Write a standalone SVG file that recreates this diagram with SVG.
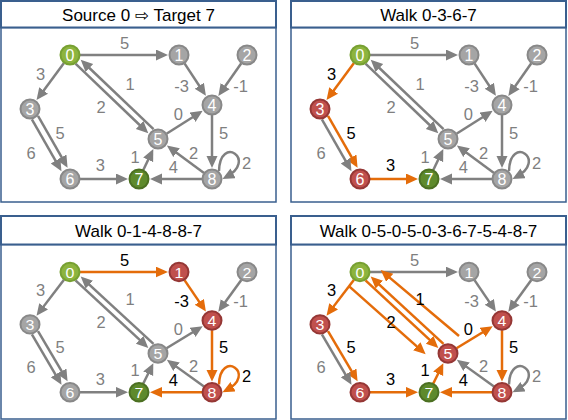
<svg xmlns="http://www.w3.org/2000/svg" width="568" height="420" viewBox="0 0 568 420">
<defs>
  <marker id="ag" markerUnits="userSpaceOnUse" markerWidth="13" markerHeight="12" refX="8" refY="5.5" orient="auto"><path d="M0,0 L12,5.5 L0,11 z" fill="#808080"/></marker>
  <marker id="ao" markerUnits="userSpaceOnUse" markerWidth="13" markerHeight="12" refX="8" refY="5.5" orient="auto"><path d="M0,0 L12,5.5 L0,11 z" fill="#E46C0A"/></marker>
</defs>
<style>
  .tb{fill:#fff;stroke:#3A5F8E;stroke-width:2}
  .bd{fill:#fff;stroke:#3A5F8E;stroke-width:1.5}
  .title{font-family:"Liberation Sans","DejaVu Sans",Arial,sans-serif;font-size:17px;text-anchor:middle;fill:#000}
  .e{fill:none;stroke:#808080;stroke-width:2.5;marker-end:url(#ag)}
  .o{fill:none;stroke:#E46C0A;stroke-width:2.5;marker-end:url(#ao)}
  .nd circle{stroke-width:2}
  .nd text{font-family:"Liberation Sans",Arial,sans-serif;font-size:16px;fill:#fff;text-anchor:middle}
  .n circle{fill:#A5A5A5;stroke:#888888}
  .r circle{fill:#C0504D;stroke:#953735}
  .g0 circle{fill:#8DB43E;stroke:#77A032}
  .g7 circle{fill:#5E8A2C;stroke:#4C7022}
  .lbl text{font-family:"Liberation Sans",Arial,sans-serif;font-size:16.5px;text-anchor:middle}
  .lg{fill:#7F7F7F}
  .lk{fill:#000}
</style>

<!-- Panel 1: Source 0 => Target 7 -->
<g id="panel1">
  <rect class="bd" x="1" y="27.5" width="275" height="174.5"/>
  <rect class="tb" x="1" y="1" width="275" height="26.5"/>
  <text class="title" x="138.5" y="20.7">Source 0 ⇨ Target 7</text>
  <g id="p1-graph">
    <g id="p1-edges">
      <line class="e" x1="80" y1="55" x2="164" y2="55"/>
      <line class="e" x1="64" y1="63" x2="38.9" y2="96.9"/>
      <line class="e" x1="75.5" y1="63.7" x2="145.4" y2="130.5"/>
      <line class="e" x1="153.5" y1="129.2" x2="83.6" y2="62.5"/>
      <line class="e" x1="184.5" y1="63.4" x2="203.7" y2="92.5"/>
      <line class="e" x1="241.3" y1="63.2" x2="220.6" y2="92.7"/>
      <line class="e" x1="166.5" y1="133.7" x2="199.3" y2="113"/>
      <line class="e" x1="212" y1="115" x2="212" y2="164"/>
      <line class="e" x1="204" y1="173" x2="170.1" y2="147.9"/>
      <line class="e" x1="202" y1="179" x2="154" y2="179"/>
      <line class="e" x1="143.3" y1="170" x2="151.6" y2="152.6"/>
      <line class="e" x1="80" y1="179" x2="124" y2="179"/>
      <line class="e" x1="38" y1="115.9" x2="65.6" y2="164.2"/>
      <line class="e" x1="31.9" y1="119.4" x2="59.5" y2="167.7"/>
      <path class="e" d="M219,171 C220,134 258,160 226,177"/>
    </g>
    <g id="p1-labels" class="lbl">
      <text class="lg" x="124.5" y="49.2">5</text>
      <text class="lg" x="40.7" y="79.9">3</text>
      <text class="lg" x="101" y="113">2</text>
      <text class="lg" x="130" y="89.5">1</text>
      <text class="lg" x="181.5" y="91.5">-3</text>
      <text class="lg" x="240.5" y="91.5">-1</text>
      <text class="lg" x="178.3" y="119.5">0</text>
      <text class="lg" x="223.5" y="138.5">5</text>
      <text class="lg" x="246.7" y="168.8">2</text>
      <text class="lg" x="193.5" y="158.5">2</text>
      <text class="lg" x="173.3" y="172.5">4</text>
      <text class="lg" x="135" y="162.5">1</text>
      <text class="lg" x="60" y="138.5">5</text>
      <text class="lg" x="31" y="159.2">6</text>
      <text class="lg" x="100.3" y="171">3</text>
    </g>
    <g id="p1-n0" class="nd g0"><circle cx="70" cy="55" r="9.5"/><text x="70" y="60.7">0</text></g>
    <g id="p1-n1" class="nd n"><circle cx="179" cy="55" r="9.5"/><text x="179" y="60.7">1</text></g>
    <g id="p1-n2" class="nd n"><circle cx="247" cy="55" r="9.5"/><text x="247" y="60.7">2</text></g>
    <g id="p1-n3" class="nd n"><circle cx="30" cy="109" r="9.5"/><text x="30" y="114.7">3</text></g>
    <g id="p1-n4" class="nd n"><circle cx="212" cy="105" r="9.5"/><text x="212" y="110.7">4</text></g>
    <g id="p1-n5" class="nd n"><circle cx="158" cy="139" r="9.5"/><text x="158" y="144.7">5</text></g>
    <g id="p1-n6" class="nd n"><circle cx="70" cy="179" r="9.5"/><text x="70" y="184.7">6</text></g>
    <g id="p1-n7" class="nd g7"><circle cx="139" cy="179" r="9.5"/><text x="139" y="184.7">7</text></g>
    <g id="p1-n8" class="nd n"><circle cx="212" cy="179" r="9.5"/><text x="212" y="184.7">8</text></g>
  </g>
</g>

<!-- Panel 2: Walk 0-3-6-7 -->
<g id="panel2" transform="translate(290,0)">
  <rect class="bd" x="1" y="27.5" width="275" height="174.5"/>
  <rect class="tb" x="1" y="1" width="275" height="26.5"/>
  <text class="title" x="138.5" y="20.7">Walk 0-3-6-7</text>
  <g id="p2-graph">
    <g id="p2-edges">
      <line class="e" x1="80" y1="55" x2="164" y2="55"/>
      <line class="o" x1="64" y1="63" x2="38.9" y2="96.9"/>
      <line class="e" x1="75.5" y1="63.7" x2="145.4" y2="130.5"/>
      <line class="e" x1="153.5" y1="129.2" x2="83.6" y2="62.5"/>
      <line class="e" x1="184.5" y1="63.4" x2="203.7" y2="92.5"/>
      <line class="e" x1="241.3" y1="63.2" x2="220.6" y2="92.7"/>
      <line class="e" x1="166.5" y1="133.7" x2="199.3" y2="113"/>
      <line class="e" x1="212" y1="115" x2="212" y2="164"/>
      <line class="e" x1="204" y1="173" x2="170.1" y2="147.9"/>
      <line class="e" x1="202" y1="179" x2="154" y2="179"/>
      <line class="e" x1="143.3" y1="170" x2="151.6" y2="152.6"/>
      <line class="o" x1="80" y1="179" x2="124" y2="179"/>
      <line class="o" x1="38" y1="115.9" x2="65.6" y2="164.2"/>
      <line class="e" x1="31.9" y1="119.4" x2="59.5" y2="167.7"/>
      <path class="e" d="M219,171 C220,134 258,160 226,177"/>
    </g>
    <g id="p2-labels" class="lbl">
      <text class="lg" x="124.5" y="49.2">5</text>
      <text class="lk" x="41.5" y="79.9">3</text>
      <text class="lg" x="101" y="113">2</text>
      <text class="lg" x="130" y="89.5">1</text>
      <text class="lg" x="181.5" y="91.5">-3</text>
      <text class="lg" x="240.5" y="91.5">-1</text>
      <text class="lg" x="178.3" y="119.5">0</text>
      <text class="lg" x="223.5" y="138.5">5</text>
      <text class="lg" x="246.7" y="168.8">2</text>
      <text class="lg" x="193.5" y="158.5">2</text>
      <text class="lg" x="173.3" y="172.5">4</text>
      <text class="lg" x="135" y="162.5">1</text>
      <text class="lk" x="61" y="138.5">5</text>
      <text class="lg" x="31" y="159.2">6</text>
      <text class="lk" x="100.5" y="171">3</text>
    </g>
    <g id="p2-n0" class="nd g0"><circle cx="70" cy="55" r="9.5"/><text x="70" y="60.7">0</text></g>
    <g id="p2-n1" class="nd n"><circle cx="179" cy="55" r="9.5"/><text x="179" y="60.7">1</text></g>
    <g id="p2-n2" class="nd n"><circle cx="247" cy="55" r="9.5"/><text x="247" y="60.7">2</text></g>
    <g id="p2-n3" class="nd r"><circle cx="30" cy="109" r="9.5"/><text x="30" y="114.7">3</text></g>
    <g id="p2-n4" class="nd n"><circle cx="212" cy="105" r="9.5"/><text x="212" y="110.7">4</text></g>
    <g id="p2-n5" class="nd n"><circle cx="158" cy="139" r="9.5"/><text x="158" y="144.7">5</text></g>
    <g id="p2-n6" class="nd r"><circle cx="70" cy="179" r="9.5"/><text x="70" y="184.7">6</text></g>
    <g id="p2-n7" class="nd g7"><circle cx="139" cy="179" r="9.5"/><text x="139" y="184.7">7</text></g>
    <g id="p2-n8" class="nd n"><circle cx="212" cy="179" r="9.5"/><text x="212" y="184.7">8</text></g>
  </g>
</g>

<!-- Panel 3: Walk 0-1-4-8-8-7 -->
<g id="panel3">
  <rect class="bd" x="1" y="244.5" width="275" height="174.5"/>
  <rect class="tb" x="1" y="216" width="275" height="28.5"/>
  <text class="title" x="138.5" y="236.7">Walk 0-1-4-8-8-7</text>
  <g id="p3-graph" transform="matrix(1,0,0,0.97,0,218.65)">
    <g id="p3-edges">
      <line class="o" x1="80" y1="55" x2="164" y2="55"/>
      <line class="e" x1="64" y1="63" x2="38.9" y2="96.9"/>
      <line class="e" x1="75.5" y1="63.7" x2="145.4" y2="130.5"/>
      <line class="e" x1="153.5" y1="129.2" x2="83.6" y2="62.5"/>
      <line class="o" x1="184.5" y1="63.4" x2="203.7" y2="92.5"/>
      <line class="e" x1="241.3" y1="63.2" x2="220.6" y2="92.7"/>
      <line class="e" x1="166.5" y1="133.7" x2="199.3" y2="113"/>
      <line class="o" x1="212" y1="115" x2="212" y2="164"/>
      <line class="e" x1="204" y1="173" x2="170.1" y2="147.9"/>
      <line class="o" x1="202" y1="179" x2="154" y2="179"/>
      <line class="e" x1="143.3" y1="170" x2="151.6" y2="152.6"/>
      <line class="e" x1="80" y1="179" x2="124" y2="179"/>
      <line class="e" x1="38" y1="115.9" x2="65.6" y2="164.2"/>
      <line class="e" x1="31.9" y1="119.4" x2="59.5" y2="167.7"/>
      <path class="o" d="M219,171 C220,134 258,160 226,177"/>
    </g>
    <g id="p3-labels" class="lbl">
      <text class="lk" x="124.5" y="49.2">5</text>
      <text class="lg" x="40.7" y="79.9">3</text>
      <text class="lg" x="101" y="113">2</text>
      <text class="lg" x="130" y="89.5">1</text>
      <text class="lk" x="181.5" y="91.5">-3</text>
      <text class="lg" x="240.5" y="91.5">-1</text>
      <text class="lg" x="178.3" y="119.5">0</text>
      <text class="lk" x="223.5" y="138.5">5</text>
      <text class="lk" x="246.7" y="168.8">2</text>
      <text class="lg" x="193.5" y="158.5">2</text>
      <text class="lk" x="173.3" y="172.5">4</text>
      <text class="lg" x="135" y="162.5">1</text>
      <text class="lg" x="60" y="138.5">5</text>
      <text class="lg" x="31" y="159.2">6</text>
      <text class="lg" x="100.3" y="171">3</text>
    </g>
    <g id="p3-n0" class="nd g0"><circle cx="70" cy="55" r="9.5"/><text x="70" y="60.7">0</text></g>
    <g id="p3-n1" class="nd r"><circle cx="179" cy="55" r="9.5"/><text x="179" y="60.7">1</text></g>
    <g id="p3-n2" class="nd n"><circle cx="247" cy="55" r="9.5"/><text x="247" y="60.7">2</text></g>
    <g id="p3-n3" class="nd n"><circle cx="30" cy="109" r="9.5"/><text x="30" y="114.7">3</text></g>
    <g id="p3-n4" class="nd r"><circle cx="212" cy="105" r="9.5"/><text x="212" y="110.7">4</text></g>
    <g id="p3-n5" class="nd n"><circle cx="158" cy="139" r="9.5"/><text x="158" y="144.7">5</text></g>
    <g id="p3-n6" class="nd n"><circle cx="70" cy="179" r="9.5"/><text x="70" y="184.7">6</text></g>
    <g id="p3-n7" class="nd g7"><circle cx="139" cy="179" r="9.5"/><text x="139" y="184.7">7</text></g>
    <g id="p3-n8" class="nd r"><circle cx="212" cy="179" r="9.5"/><text x="212" y="184.7">8</text></g>
  </g>
</g>

<!-- Panel 4: Walk 0-5-0-5-0-3-6-7-5-4-8-7 -->
<g id="panel4">
  <rect class="bd" x="291" y="244.5" width="275" height="174.5"/>
  <rect class="tb" x="291" y="216" width="275" height="28.5"/>
  <text class="title" x="428.5" y="236.7">Walk 0-5-0-5-0-3-6-7-5-4-8-7</text>
  <g id="p4-graph" transform="matrix(1,0,0,0.97,290,218.65)">
    <g id="p4-edges">
      <line class="e" x1="80" y1="55" x2="164" y2="55"/>
      <line class="o" x1="64" y1="63" x2="38.9" y2="96.9"/>
      <line class="o" x1="75.5" y1="63.7" x2="145.4" y2="130.5"/>
      <line class="o" x1="59.5" y1="70" x2="132.7" y2="137"/>
      <line class="o" x1="153.5" y1="129.2" x2="83.6" y2="62.5"/>
      <line class="o" x1="169" y1="121" x2="93.7" y2="55.6"/>
      <line class="e" x1="184.5" y1="63.4" x2="203.7" y2="92.5"/>
      <line class="e" x1="241.3" y1="63.2" x2="220.6" y2="92.7"/>
      <line class="o" x1="166.5" y1="133.7" x2="199.3" y2="113"/>
      <line class="o" x1="212" y1="115" x2="212" y2="164"/>
      <line class="e" x1="204" y1="173" x2="170.1" y2="147.9"/>
      <line class="o" x1="202" y1="179" x2="154" y2="179"/>
      <line class="o" x1="143.3" y1="170" x2="151.6" y2="152.6"/>
      <line class="o" x1="80" y1="179" x2="124" y2="179"/>
      <line class="o" x1="38" y1="115.9" x2="65.6" y2="164.2"/>
      <line class="e" x1="31.9" y1="119.4" x2="59.5" y2="167.7"/>
      <path class="e" d="M219,171 C220,134 258,160 226,177"/>
    </g>
    <g id="p4-labels" class="lbl">
      <text class="lg" x="124.5" y="49.2">5</text>
      <text class="lk" x="41.5" y="79.9">3</text>
      <text class="lk" x="101" y="113">2</text>
      <text class="lk" x="130" y="89.5">1</text>
      <text class="lg" x="181.5" y="91.5">-3</text>
      <text class="lg" x="240.5" y="91.5">-1</text>
      <text class="lk" x="178.3" y="119.5">0</text>
      <text class="lk" x="223.5" y="138.5">5</text>
      <text class="lg" x="246.7" y="168.8">2</text>
      <text class="lg" x="193.5" y="158.5">2</text>
      <text class="lk" x="173.3" y="172.5">4</text>
      <text class="lk" x="135" y="162.5">1</text>
      <text class="lk" x="61" y="138.5">5</text>
      <text class="lg" x="31" y="159.2">6</text>
      <text class="lk" x="100.5" y="171">3</text>
    </g>
    <g id="p4-n0" class="nd g0"><circle cx="70" cy="55" r="9.5"/><text x="70" y="60.7">0</text></g>
    <g id="p4-n1" class="nd n"><circle cx="179" cy="55" r="9.5"/><text x="179" y="60.7">1</text></g>
    <g id="p4-n2" class="nd n"><circle cx="247" cy="55" r="9.5"/><text x="247" y="60.7">2</text></g>
    <g id="p4-n3" class="nd r"><circle cx="30" cy="109" r="9.5"/><text x="30" y="114.7">3</text></g>
    <g id="p4-n4" class="nd r"><circle cx="212" cy="105" r="9.5"/><text x="212" y="110.7">4</text></g>
    <g id="p4-n5" class="nd r"><circle cx="158" cy="139" r="9.5"/><text x="158" y="144.7">5</text></g>
    <g id="p4-n6" class="nd r"><circle cx="70" cy="179" r="9.5"/><text x="70" y="184.7">6</text></g>
    <g id="p4-n7" class="nd g7"><circle cx="139" cy="179" r="9.5"/><text x="139" y="184.7">7</text></g>
    <g id="p4-n8" class="nd r"><circle cx="212" cy="179" r="9.5"/><text x="212" y="184.7">8</text></g>
  </g>
</g>
</svg>
